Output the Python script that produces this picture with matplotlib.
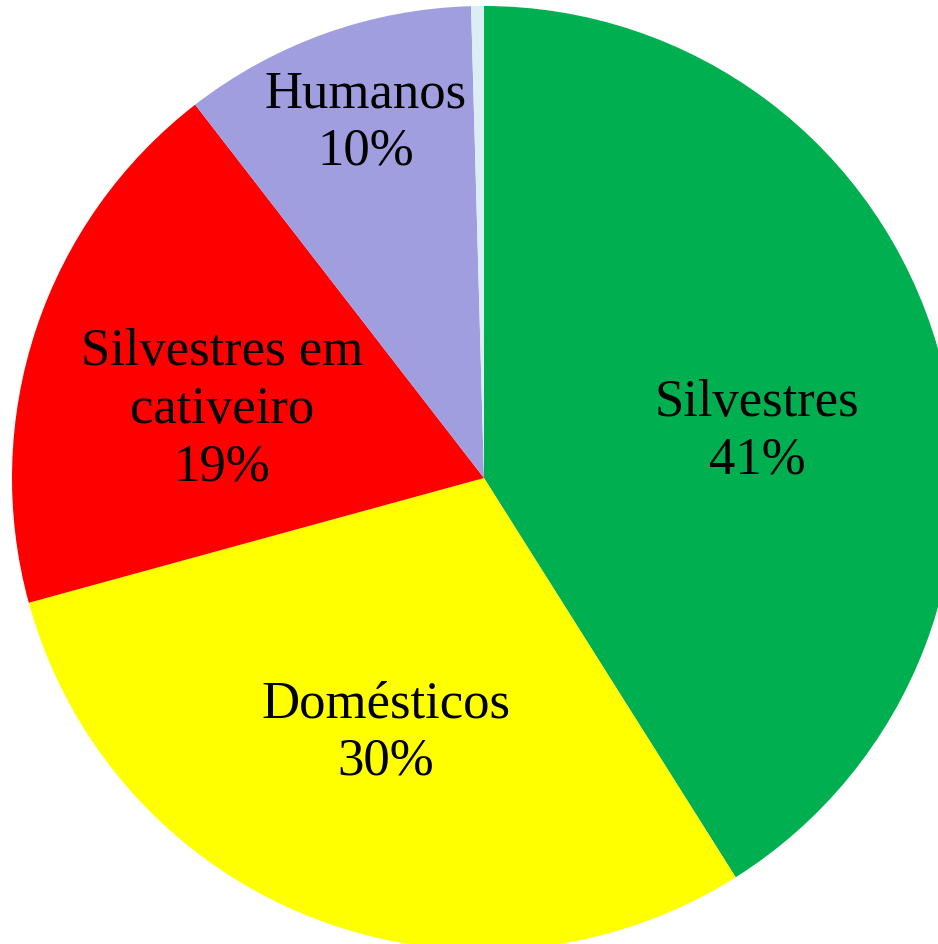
import matplotlib.pyplot as plt

# casos por grupo de hospedeiros
grupos = ['Silvestres', 'Domésticos', 'Silvestres em\ncativeiro', 'Humanos', 'Outros']
casos = [94, 68, 43, 23, 1]
cores = ['#00B050', '#FFFF00', '#FF0000', '#A09EDE', '#DAEEF3']

# posicao dos rotulos (pixels, origem no canto superior esquerdo)
pos_rotulos = [(757, 432), (386, 733), (222, 410), (366, 123), None]

W, H = 938, 944
fig = plt.figure(figsize=(W / 100, H / 100), dpi=100)
ax = fig.add_axes([0, 0, 1, 1])

cx, cy, r = 484, H - 478, 472
ax.pie(casos, colors=cores, startangle=90, counterclock=False,
       center=(cx, cy), radius=r, frame=True,
       wedgeprops=dict(linewidth=0))
ax.set_xlim(0, W)
ax.set_ylim(0, H)
ax.axis('off')

total = sum(casos)
for nome, v, pos in zip(grupos, casos, pos_rotulos):
    if pos is None:
        continue
    pct = round(v / total * 100)
    ax.text(pos[0], H - pos[1], f'{nome}\n{pct}%', ha='center', va='center',
            fontsize=38, family='Liberation Serif', linespacing=1.26)

fig.savefig('out.png', dpi=100)
